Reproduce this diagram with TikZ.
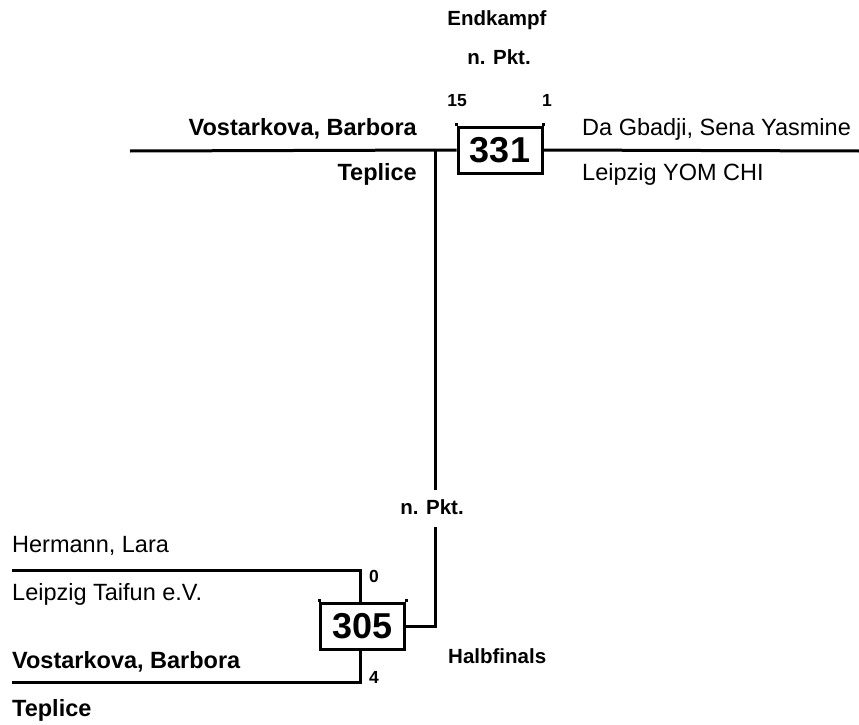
\documentclass[tikz,border=0pt]{standalone}
\usepackage{fontspec}
\setmainfont{Liberation Sans}
\begin{document}
\begin{tikzpicture}[x=1pt,y=-1pt,
  bline/.style={line width=3pt},
  tickln/.style={line width=3pt},
  matchbox/.style={draw,line width=3pt,minimum width=84pt,minimum height=46pt,inner sep=0pt,font=\fontsize{36}{36}\selectfont\bfseries},
  nmtxt/.style={inner sep=0pt,font=\fontsize{23.5}{24}\selectfont},
  bnmtxt/.style={inner sep=0pt,font=\fontsize{23.5}{24}\selectfont\bfseries},
  labtxt/.style={inner sep=0pt,font=\fontsize{20.5}{21}\selectfont\bfseries},
  scoretxt/.style={inner sep=0pt,font=\fontsize{17.5}{18}\selectfont\bfseries}]
\useasboundingbox (0,0) rectangle (859,725);
% boxes
\node[matchbox] (b331) at (500,150) {331};
\node[matchbox] (b305) at (362.5,626.5) {305};
\draw[tickln] (b331.north west) -- ++(0,-3);
\draw[tickln] (b331.north east) -- ++(0,-3);
\draw[tickln] (b305.north west) -- ++(0,-3);
\draw[tickln] (b305.north east) -- ++(0,-3);
% top line
\coordinate (tl) at (130,151);
\coordinate (tr) at (859,151);
\coordinate (j1) at (435,151);
\coordinate (g1) at (435,490);
\coordinate (g2) at (435,527);
\draw[bline] (tl) -- (b331.west);
\draw[bline] (b331.east) -- (tr);
\draw[bline] (j1) -- (g1);
\draw[bline] (g2) |- (b305.east);
% bottom brackets
\coordinate (ul) at (12,570);
\coordinate (ut) at (360,603);
\coordinate (ll) at (12,682);
\coordinate (lb) at (360,650);
\draw[bline] (ul) -| (ut);
\draw[bline] (ll) -| (lb);
% labels
\node[labtxt,anchor=base] (endk) at (497,26) {Endkampf};
\node[labtxt,anchor=base] (np1) at (499,64) {n. Pkt.};
\node[scoretxt,anchor=base] (s15) at (457,106) {15};
\node[scoretxt,anchor=base] (s1) at (547,106) {1};
\node[bnmtxt,anchor=base east] (n1) at (417,135) {Vostarkova, Barbora};
\node[bnmtxt,anchor=base east] (c1) at (417,180) {Teplice};
\node[nmtxt,anchor=base west] (n2) at (582,135) {Da Gbadji, Sena Yasmine};
\node[nmtxt,anchor=base west] (c2) at (582,180) {Leipzig YOM CHI};
\node[labtxt,anchor=base] (np2) at (432,514) {n. Pkt.};
\node[nmtxt,anchor=base west] (n3) at (12,552) {Hermann, Lara};
\node[nmtxt,anchor=base west] (c3) at (12,600) {Leipzig Taifun e.V.};
\node[scoretxt,anchor=base west] (s0) at (369,582) {0};
\node[bnmtxt,anchor=base west] (n4) at (12,668) {Vostarkova, Barbora};
\node[bnmtxt,anchor=base west] (c4) at (12,716) {Teplice};
\node[scoretxt,anchor=base west] (s4) at (369,683) {4};
\node[labtxt,anchor=base west] (hf) at (448,663) {Halbfinals};
\end{tikzpicture}
\end{document}
